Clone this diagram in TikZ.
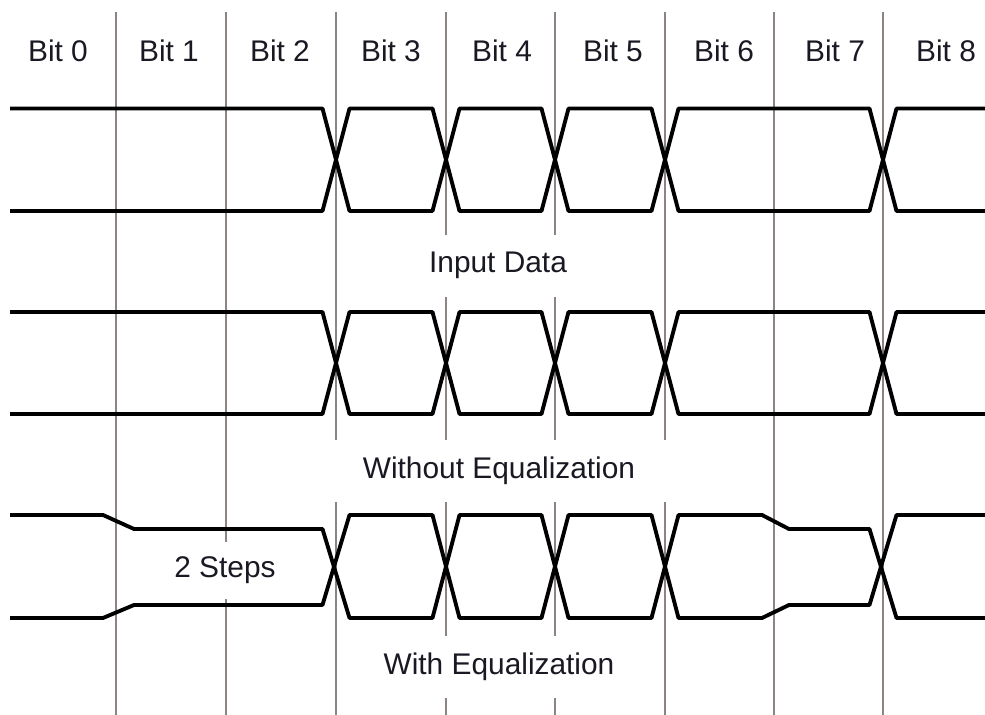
\documentclass[tikz,border=0pt]{standalone}
\usepackage{fontspec}
\setmainfont{Liberation Sans}
\usepackage{xcolor}
\usepackage{tikz}
\definecolor{gridgray}{RGB}{140,132,128}
\definecolor{labeltext}{RGB}{25,25,35}
\tikzstyle{bitlabel} = [anchor=base, text=labeltext, font=\fontsize{17}{20}\selectfont]
\tikzstyle{caption} = [anchor=base, fill=white, inner xsep=2pt, inner ysep=0pt, minimum height=1.24cm, text=labeltext, font=\fontsize{17}{20}\selectfont]
\tikzstyle{boundary} = [draw=gridgray, line width=1.2pt]
\tikzstyle{trace} = [draw=black, line width=2.2pt, line join=round]

\begin{document}
\begin{tikzpicture}[x=0.02cm, y=-0.02cm]
        \useasboundingbox (0,0) rectangle (985,715);

        % bit boundaries
        \path [boundary] (116,12) -- (116,715);
        \path [boundary] (226,12) -- (226,715);
        \path [boundary] (336,12) -- (336,715);
        \path [boundary] (446,12) -- (446,715);
        \path [boundary] (555,12) -- (555,715);
        \path [boundary] (665,12) -- (665,715);
        \path [boundary] (774,12) -- (774,715);
        \path [boundary] (883,12) -- (883,715);

        \node [bitlabel] at (58,62) (bit0) {Bit 0};
        \node [bitlabel] at (169,62) (bit1) {Bit 1};
        \node [bitlabel] at (280,62) (bit2) {Bit 2};
        \node [bitlabel] at (391,62) (bit3) {Bit 3};
        \node [bitlabel] at (502,62) (bit4) {Bit 4};
        \node [bitlabel] at (613,62) (bit5) {Bit 5};
        \node [bitlabel] at (724,62) (bit6) {Bit 6};
        \node [bitlabel] at (835,62) (bit7) {Bit 7};
        \node [bitlabel] at (946,62) (bit8) {Bit 8};

        % input data
        \path [trace] (10,108.5) -- (322.5,108.5) -- (349.5,211) -- (432.5,211) -- (459.5,108.5)
            -- (541.5,108.5) -- (568.5,211) -- (651.5,211) -- (678.5,108.5) -- (869.5,108.5)
            -- (896.5,211) -- (985,211);
        \path [trace] (10,211) -- (322.5,211) -- (349.5,108.5) -- (432.5,108.5) -- (459.5,211)
            -- (541.5,211) -- (568.5,108.5) -- (651.5,108.5) -- (678.5,211) -- (869.5,211)
            -- (896.5,108.5) -- (985,108.5);

        % without equalization
        \path [trace] (10,312) -- (322.5,312) -- (349.5,414) -- (432.5,414) -- (459.5,312)
            -- (541.5,312) -- (568.5,414) -- (651.5,414) -- (678.5,312) -- (869.5,312)
            -- (896.5,414) -- (985,414);
        \path [trace] (10,414) -- (322.5,414) -- (349.5,312) -- (432.5,312) -- (459.5,414)
            -- (541.5,414) -- (568.5,312) -- (651.5,312) -- (678.5,414) -- (869.5,414)
            -- (896.5,312) -- (985,312);

        % with equalization
        \path [trace] (10,515) -- (103,515) -- (134,529) -- (322.5,529) -- (349.5,618)
            -- (432.5,618) -- (459.5,515) -- (541.5,515) -- (568.5,618) -- (651.5,618)
            -- (678.5,515) -- (762,515) -- (789,529) -- (869.5,529) -- (896.5,618) -- (985,618);
        \path [trace] (10,618) -- (103,618) -- (134,605) -- (322.5,605) -- (349.5,515)
            -- (432.5,515) -- (459.5,618) -- (541.5,618) -- (568.5,515) -- (651.5,515)
            -- (678.5,618) -- (762,618) -- (789,605) -- (869.5,605) -- (896.5,515) -- (985,515);

        \node [caption] at (498,273) (input) {Input Data};
        \node [caption, minimum width=6.9cm] at (499,479) (without) {Without Equalization};
        \node [caption] at (499,675) (with) {With Equalization};
        \node [caption, minimum height=1.14cm] at (225,578) (steps) {2 Steps};
    \end{tikzpicture}
\end{document}
